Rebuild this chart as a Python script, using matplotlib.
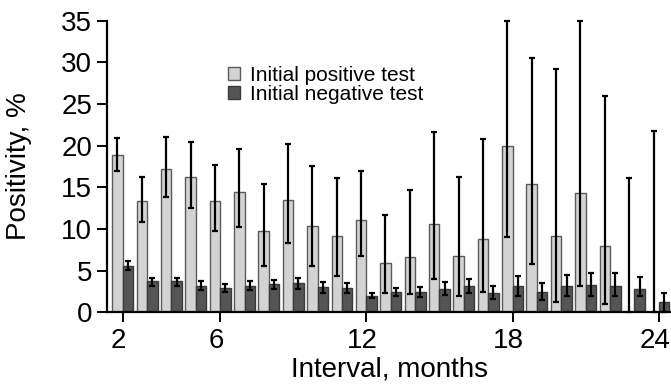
import numpy as np
import matplotlib
matplotlib.use("Agg")
import matplotlib.pyplot as plt
import matplotlib.transforms as mtransforms

plt.rcParams['font.family'] = ['Liberation Sans', 'DejaVu Sans']

months = np.arange(2, 25)
# initial positive test: value, lower and upper CI
pos = [18.9, 13.3, 17.2, 16.2, 13.4, 14.4, 9.8, 13.5, 10.4, 9.1, 11.1, 5.9,
       6.6, 10.6, 6.7, 8.8, 20.0, 15.4, 9.1, 14.3, 8.0, 0.0, 0.0]
pos_lo = [17.0, 10.8, 13.8, 12.5, 9.7, 10.2, 5.6, 8.3, 5.5, 4.4, 6.7, 2.3,
          2.2, 4.0, 1.9, 2.4, 9.0, 5.8, 1.2, 3.1, 1.0, 0.0, 0.0]
pos_hi = [20.9, 16.2, 21.0, 20.4, 17.7, 19.6, 15.4, 20.2, 17.6, 16.1, 17.0, 11.7,
          14.7, 21.6, 16.2, 20.8, 35.0, 30.5, 29.2, 35.0, 26.0, 16.1, 21.8]
# initial negative test
neg = [5.6, 3.7, 3.7, 3.2, 2.9, 3.2, 3.4, 3.5, 3.0, 2.9, 2.0, 2.4,
       2.4, 2.8, 3.2, 2.3, 3.2, 2.4, 3.2, 3.3, 3.2, 2.8, 1.2]
neg_lo = [5.1, 3.2, 3.2, 2.7, 2.4, 2.7, 2.8, 2.8, 2.35, 2.3, 1.75, 1.96,
          1.84, 2.1, 2.3, 1.56, 2.0, 1.5, 2.0, 1.9, 1.9, 1.9, 0.0]
neg_hi = [6.2, 4.15, 4.15, 3.7, 3.4, 3.7, 3.9, 4.15, 3.6, 3.5, 2.3, 2.9,
          3.0, 3.6, 4.0, 3.2, 4.3, 3.5, 4.5, 4.7, 4.7, 4.2, 2.3]
xticks = [2, 6, 12, 18, 24]

fig = plt.figure(figsize=(6.71, 3.84), dpi=100)
ax = fig.add_axes([107.3 / 671, 1 - 312.3 / 384, 1 - 107.3 / 671, (312.3 - 20.7) / 384])

w = 0.43
pos = np.array(pos); neg = np.array(neg)
perr = [pos - np.array(pos_lo), np.array(pos_hi) - pos]
nerr = [neg - np.array(neg_lo), np.array(neg_hi) - neg]

ax.bar(months - w, pos, width=w, align='edge', color='#d3d3d3', edgecolor='#5a5a5a',
       linewidth=1.0, label='Initial positive test', zorder=2)
ax.bar(months, neg, width=w, align='edge', color='#555555', edgecolor='#3a3a3a',
       linewidth=1.0, label='Initial negative test', zorder=2)
ax.errorbar(months - w / 2, pos, yerr=perr, fmt='none', ecolor='black', elinewidth=1.6,
            capsize=2.5, capthick=1.6, zorder=3, clip_on=False)
ax.errorbar(months + w / 2, neg, yerr=nerr, fmt='none', ecolor='black', elinewidth=1.6,
            capsize=2.5, capthick=1.6, zorder=3, clip_on=False)

ax.set_xlim(1.37, 24.5)
ax.set_ylim(0, 35)
ax.set_yticks(range(0, 36, 5))
ax.set_xticks(xticks)
ax.spines['top'].set_visible(False)
ax.spines['right'].set_visible(False)
ax.spines['left'].set_linewidth(1.6)
ax.spines['bottom'].set_linewidth(1.6)
ax.tick_params(axis='both', labelsize=20, width=1.4, length=7, direction='out', pad=4)

# nudge x tick labels a little to the left so "24" fits
shift = mtransforms.ScaledTranslation(-4 / 100, 0, fig.dpi_scale_trans)
for lab in ax.get_xticklabels():
    lab.set_transform(lab.get_transform() + shift)

ax.set_xlabel('Interval, months', fontsize=20, labelpad=2)
ax.set_ylabel('Positivity, %', fontsize=20)
ax.yaxis.set_label_coords(-0.134, 0.5)

ax.legend(loc='upper left', bbox_to_anchor=(213 / 671, 1 - 51 / 384),
          bbox_transform=fig.transFigure, frameon=False, fontsize=15,
          handlelength=0.6, handleheight=0.6, handletextpad=0.5,
          labelspacing=0.0, borderpad=0.2)

fig.savefig('out.png', dpi=100)
